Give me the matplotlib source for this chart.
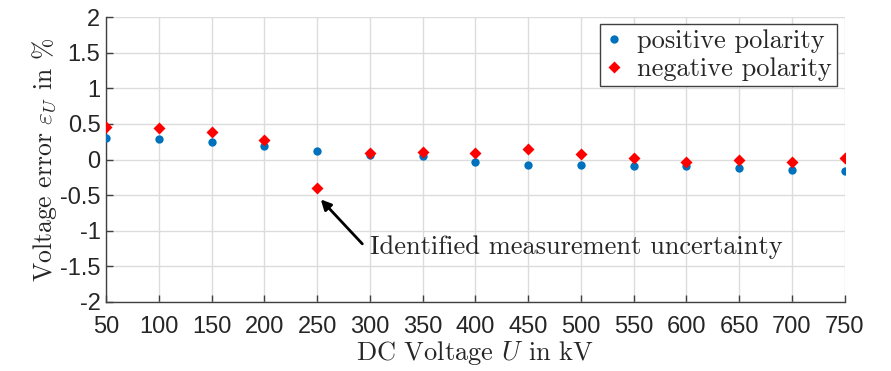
import matplotlib
matplotlib.use("Agg")
import matplotlib.pyplot as plt

# ---------- data ----------
voltage_kv = [50, 100, 150, 200, 250, 300, 350, 400, 450, 500, 550, 600, 650, 700, 750]
err_pos = [0.30, 0.29, 0.25, 0.19, 0.12, 0.07, 0.05, -0.04, -0.07, -0.07, -0.09, -0.09, -0.12, -0.14, -0.16]
err_neg = [0.46, 0.44, 0.38, 0.27, -0.40, 0.09, 0.11, 0.09, 0.15, 0.08, 0.02, -0.04, -0.01, -0.04, 0.02]
yticks = [-2, -1.5, -1, -0.5, 0, 0.5, 1, 1.5, 2]
ytick_labels = ["-2", "-1.5", "-1", "-0.5", "0", "0.5", "1", "1.5", "2"]

plt.rcParams["mathtext.fontset"] = "cm"
SERIF = ["cmr10", "DejaVu Serif"]
SANS = ["Liberation Sans", "DejaVu Sans"]
TXT = "#262626"

fig = plt.figure(figsize=(8.91, 3.71), dpi=100)
ax = fig.add_axes([0.119, 0.186, 0.829, 0.768])

ax.plot(voltage_kv, err_pos, "o", color="#0072BD", ms=6, mec="none", label="positive polarity", zorder=3)
ax.plot(voltage_kv, err_neg, "D", color="#FF0000", ms=6, mec="none", label="negative polarity", zorder=4)

ax.set_xlim(50, 750)
ax.set_ylim(-2, 2)
ax.set_xticks(voltage_kv)
ax.set_yticks(yticks)
ax.set_yticklabels(ytick_labels)
for lab in ax.get_xticklabels() + ax.get_yticklabels():
    lab.set_family(SANS)
    lab.set_fontsize(17)
    lab.set_color(TXT)

ax.grid(True, color="#dcdcdc", lw=1.0)
ax.set_axisbelow(True)
ax.tick_params(direction="in", length=5, width=1, color="#404040")
ax.tick_params(axis="x", pad=10)
ax.tick_params(axis="y", pad=4)
for s in ("top", "right"):
    ax.spines[s].set_visible(False)
for s in ("left", "bottom"):
    ax.spines[s].set_color("#404040")
    ax.spines[s].set_linewidth(1.0)

ax.set_xlabel(r"DC Voltage $U$ in kV", family=SERIF, fontsize=19, color=TXT, labelpad=1)
ax.set_ylabel(r"Voltage error $\varepsilon_U$ in %", family=SERIF, fontsize=18.5, color=TXT, labelpad=1)

ax.annotate("Identified measurement uncertainty", xy=(253.5, -0.56), xytext=(300, -1.23),
            family=SERIF, fontsize=19, color=TXT, va="center", ha="left",
            arrowprops=dict(arrowstyle="-|>", color="black", lw=2, shrinkA=5, shrinkB=0,
                            relpos=(0, 0.3), mutation_scale=15))

leg = ax.legend(loc="upper right", bbox_to_anchor=(0.989, 0.975), prop={"family": SERIF, "size": 19},
                fancybox=False, framealpha=1, edgecolor="#404040", handlelength=0.7,
                handletextpad=0.5, borderpad=0.2, labelspacing=0.15, borderaxespad=0)
leg.get_frame().set_linewidth(1.0)
for t in leg.get_texts():
    t.set_color(TXT)

fig.savefig("out.png", dpi=100)
